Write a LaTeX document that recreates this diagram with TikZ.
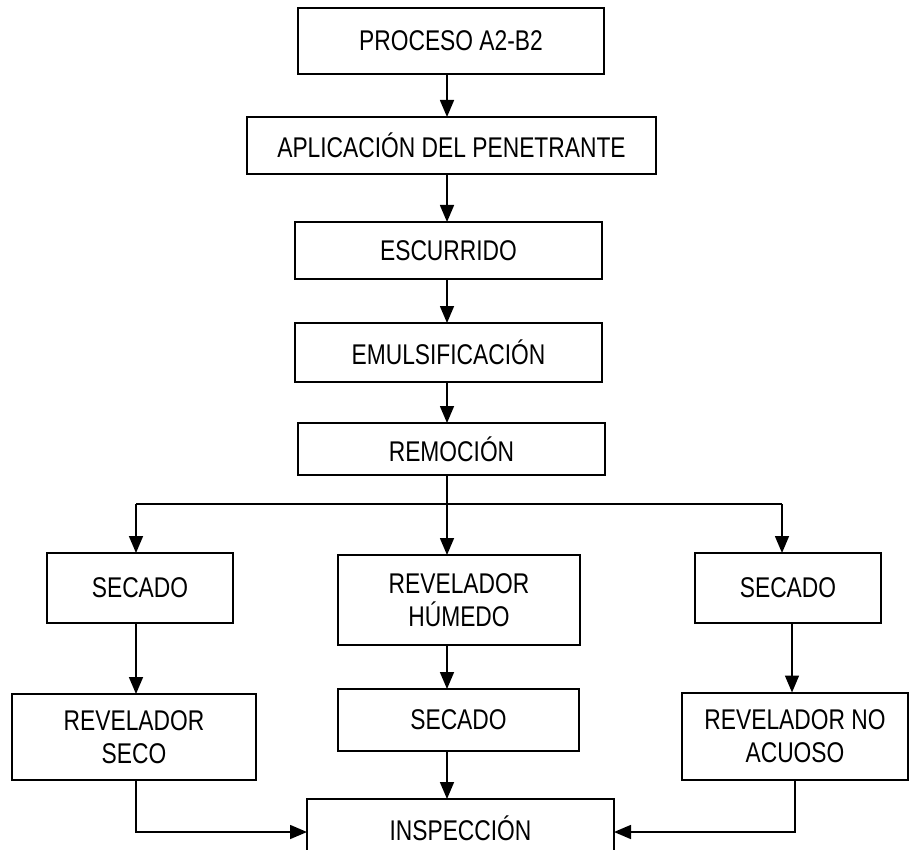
\documentclass[tikz,border=0pt]{standalone}
\usepackage{fontspec}
\setmainfont{Liberation Sans}[FakeStretch=0.8]
\usetikzlibrary{arrows.meta}
\begin{document}
\begin{tikzpicture}[x=1pt,y=-1pt,
  box/.style={draw, line width=2pt, rectangle, inner sep=0pt, outer sep=0pt,
    align=center, font=\fontsize{28.5}{33}\selectfont},
  conn/.style={line width=1.6pt, -{Triangle[length=17pt,width=14pt]}},
  plainline/.style={line width=1.6pt}]
\useasboundingbox (0,0) rectangle (912,850);
\clip (0,0) rectangle (912,850);
\fill[white] (0,0) rectangle (912,850);
% boxes
\node[box, minimum width=306pt, minimum height=66pt] (proc) at (451,41) {PROCESO A2-B2};
\node[box, minimum width=409pt, minimum height=57pt] (apl) at (451.5,145.5) {APLICACIÓN DEL PENETRANTE};
\node[box, minimum width=307pt, minimum height=57pt] (esc) at (448.5,250.5) {ESCURRIDO};
\node[box, minimum width=307pt, minimum height=59pt] (emu) at (448.5,352.5) {EMULSIFICACIÓN};
\node[box, minimum width=307pt, minimum height=52pt] (rem) at (451.5,449) {REMOCIÓN};
\node[box, minimum width=186pt, minimum height=70pt] (secL) at (140,588) {SECADO};
\node[box, minimum width=242pt, minimum height=90pt] (revH) at (459,600) {REVELADOR\\HÚMEDO};
\node[box, minimum width=186pt, minimum height=70pt] (secR) at (788,588) {SECADO};
\node[box, minimum width=244pt, minimum height=86pt] (revS) at (134,737) {REVELADOR\\SECO};
\node[box, minimum width=241pt, minimum height=62pt] (secM) at (458.5,720) {SECADO};
\node[box, minimum width=226pt, minimum height=87pt] (revN) at (795,736) {REVELADOR NO\\ACUOSO};
\node[box, minimum width=307pt, minimum height=58pt] (insp) at (460.5,828) {INSPECCIÓN};
% helper coordinates
\coordinate (cx) at (447,0);
\coordinate (bl) at (136,504);
\coordinate (br) at (782,504);
\coordinate (rx) at (792,0);
\coordinate (rx2) at (795,0);
\coordinate (ly) at (0,832);
% connectors
\draw[conn] (proc.south -| cx) -- (apl.north -| cx);
\draw[conn] (apl.south -| cx) -- (esc.north -| cx);
\draw[conn] (esc.south -| cx) -- (emu.north -| cx);
\draw[conn] (emu.south -| cx) -- (rem.north -| cx);
\draw[conn] (rem.south -| cx) -- (revH.north -| cx);
\draw[plainline] (bl) -- (br);
\draw[conn] (bl) -- (secL.north -| bl);
\draw[conn] (br) -- (secR.north -| br);
\draw[conn] (secL.south -| bl) -- (revS.north -| bl);
\draw[conn] (revH.south -| cx) -- (secM.north -| cx);
\draw[conn] (secM.south -| cx) -- (insp.north -| cx);
\draw[conn] (secR.south -| rx) -- (revN.north -| rx);
\draw[conn] (revS.south -| bl) |- (insp.west |- ly);
\draw[conn] (revN.south -| rx2) |- (insp.east |- ly);
\end{tikzpicture}
\end{document}
